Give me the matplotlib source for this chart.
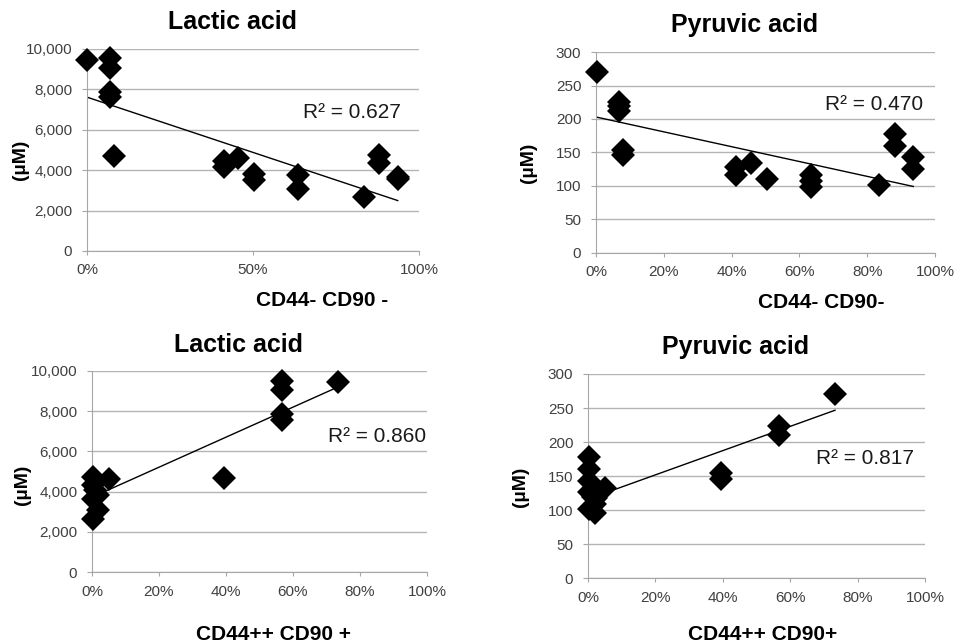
import matplotlib
matplotlib.use('Agg')
import matplotlib.pyplot as plt
import numpy as np

plt.rcParams['font.family'] = ['Liberation Sans', 'DejaVu Sans']

# top row: CD44- CD90- fraction (%)
neg_lac_x = [0, 6.9, 6.9, 6.9, 6.9, 8.1, 41.3, 41.3, 45.6, 50.4, 50.4, 63.5, 63.5, 83.5, 88.1, 88.1, 93.6, 93.6]
neg_lac_y = [9440, 9550, 9060, 7850, 7620, 4720, 4470, 4170, 4590, 3810, 3510, 3760, 3060, 2650, 4770, 4340, 3680, 3560]
neg_lac_fit = (7616, -54.7)          # intercept, slope per %
neg_lac_r2 = "R² = 0.627"

neg_pyr_x = [0.4, 6.9, 6.9, 6.9, 8.1, 8.1, 41.4, 41.4, 45.6, 50.5, 63.5, 63.5, 63.5, 83.6, 88.2, 88.2, 93.6, 93.6]
neg_pyr_y = [270, 225, 219, 212, 154, 146, 129, 116, 134, 111, 116, 107, 98, 102, 178, 160, 143, 126]
neg_pyr_fit = (203, -1.108)
neg_pyr_r2 = "R² = 0.470"

# bottom row: CD44++ CD90+ fraction (%)
pos_lac_x = [0.3, 0.3, 0.3, 0.3, 1.7, 1.7, 1.0, 5.0, 39.5, 56.7, 56.7, 56.7, 56.7, 73.4]
pos_lac_y = [4730, 4320, 3650, 2660, 3820, 3070, 4100, 4620, 4700, 9500, 9050, 7840, 7560, 9440]
pos_lac_fit = (3720, 74.7)
pos_lac_r2 = "R² = 0.860"

pos_pyr_x = [0.2, 0.2, 0.2, 0.2, 0.2, 1.5, 2.0, 2.0, 2.5, 4.9, 39.5, 39.5, 56.6, 56.6, 73.3]
pos_pyr_y = [178, 160, 142, 126, 102, 119, 109, 95, 117, 133, 155, 145, 224, 211, 270]
pos_pyr_fit = (116, 1.783)
pos_pyr_r2 = "R² = 0.817"

fig = plt.figure(figsize=(9.56, 6.44), dpi=100)
W, H = 956.0, 644.0

def make_ax(l, t, r, b):
    return fig.add_axes([l / W, 1 - b / H, (r - l) / W, (b - t) / H])

def draw(ax, xs, ys, fit, r2, ymax, ystep, xstep, yfmt, title, xlabel, r2pos, titlepos, ylabpos, xlabpos):
    xs = np.array(xs)
    ax.set_xlim(0, 100)
    ax.set_ylim(0, ymax)
    ax.set_yticks(np.arange(0, ymax + 1, ystep))
    ax.set_xticks(np.arange(0, 101, xstep))
    ax.set_xticklabels(["%d%%" % v for v in np.arange(0, 101, xstep)])
    ax.set_yticklabels([yfmt(v) for v in np.arange(0, ymax + 1, ystep)])
    ax.yaxis.grid(True, color='#b4b4b4', lw=1)
    ax.set_axisbelow(True)
    for s in ['top', 'right']:
        ax.spines[s].set_visible(False)
    for s in ['left', 'bottom']:
        ax.spines[s].set_color('#a6a6a6')
    ax.tick_params(axis='both', colors='#a6a6a6', labelcolor='#404040', labelsize=11, direction='out')
    ax.tick_params(axis='x', length=3, pad=6)
    ax.tick_params(axis='y', length=3.6, pad=7)
    xf = np.array([xs.min(), xs.max()])
    ax.plot(xf, fit[0] + fit[1] * xf, color='black', lw=1, zorder=2)
    ax.plot(xs, ys, 'D', color='black', ms=12.5, mew=0, zorder=3, clip_on=False)
    fig.text(r2pos[0] / W, 1 - r2pos[1] / H, r2, fontsize=15, ha='left', va='center', color='#1a1a1a')
    fig.text(titlepos[0] / W, 1 - titlepos[1] / H, title, fontsize=18, fontweight='bold', ha='center', va='center')
    fig.text(ylabpos[0] / W, 1 - ylabpos[1] / H, "(µM)", fontsize=14, fontweight='bold', rotation=90, ha='center', va='center')
    fig.text(xlabpos[0] / W, 1 - xlabpos[1] / H, xlabel, fontsize=15, fontweight='bold', ha='center', va='center')

comma = lambda v: "{:,}".format(int(v))
plain = lambda v: "%d" % v

ax1 = make_ax(87, 49, 419, 251)
draw(ax1, neg_lac_x, neg_lac_y, neg_lac_fit, neg_lac_r2, 10000, 2000, 50, comma,
     "Lactic acid", "CD44- CD90 -", (303, 113), (232, 22), (21, 160), (322, 300))

ax2 = make_ax(596, 52, 935, 253)
draw(ax2, neg_pyr_x, neg_pyr_y, neg_pyr_fit, neg_pyr_r2, 300, 50, 20, plain,
     "Pyruvic acid", "CD44- CD90-", (825, 105), (745, 25), (528, 163), (821, 302))

ax3 = make_ax(92, 371, 427, 572)
draw(ax3, pos_lac_x, pos_lac_y, pos_lac_fit, pos_lac_r2, 10000, 2000, 20, comma,
     "Lactic acid", "CD44++ CD90 +", (328, 437), (238, 345), (23, 485), (273, 634))

ax4 = make_ax(588, 374, 925, 578)
draw(ax4, pos_pyr_x, pos_pyr_y, pos_pyr_fit, pos_pyr_r2, 300, 50, 20, plain,
     "Pyruvic acid", "CD44++ CD90+", (816, 459), (736, 347), (521, 487), (763, 634))

fig.savefig("out.png", dpi=100)
